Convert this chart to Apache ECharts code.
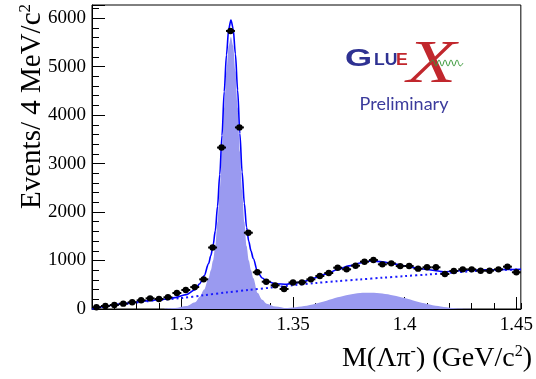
<!DOCTYPE html>
<html>
<head>
<meta charset="utf-8">
<script src="https://cdn.jsdelivr.net/npm/echarts@6/dist/echarts.min.js"></script>
<style>
  html, body { margin: 0; padding: 0; background: #fff; }
  #chart { width: 536px; height: 379px; }
</style>
</head>
<body>
<div id="chart"></div>
<script>
// measured histogram, 4 MeV bins (bin centres)
const binCenters = [1.262, 1.266, 1.270, 1.274, 1.278, 1.282, 1.286, 1.290, 1.294, 1.298,
  1.302, 1.306, 1.310, 1.314, 1.318, 1.322, 1.326, 1.330, 1.334, 1.338,
  1.342, 1.346, 1.350, 1.354, 1.358, 1.362, 1.366, 1.370, 1.374, 1.378,
  1.382, 1.386, 1.390, 1.394, 1.398, 1.402, 1.406, 1.410, 1.414, 1.418,
  1.422, 1.426, 1.430, 1.434, 1.438, 1.442, 1.446, 1.450];
const events = [35, 62, 82, 110, 138, 179, 220, 206, 241, 330,
  392, 452, 612, 1268, 3330, 5735, 3745, 1573, 757, 563,
  488, 412, 547, 550, 612, 680, 742, 852, 818, 893,
  976, 1010, 921, 942, 885, 887, 832, 860, 860, 722,
  783, 818, 818, 790, 790, 818, 873, 757];

// total fit (solid blue)
const fitX = [1.260, 1.265, 1.270, 1.275, 1.280, 1.285, 1.2922, 1.2972, 1.3022, 1.3062,
  1.3082, 1.3102, 1.3122, 1.3132, 1.3142, 1.3152, 1.3162, 1.3172, 1.3182, 1.3192,
  1.3202, 1.3212, 1.3222, 1.3232, 1.3242, 1.3252, 1.3262, 1.3272, 1.3282, 1.3292,
  1.3302, 1.3312, 1.3322, 1.3342, 1.3362, 1.3382, 1.3422, 1.3472, 1.3522, 1.355,
  1.360, 1.365, 1.370, 1.375, 1.380, 1.385, 1.390, 1.395, 1.400, 1.405,
  1.410, 1.415, 1.418, 1.422, 1.427, 1.433, 1.440, 1.446, 1.452];
const fitY = [15, 50, 85, 115, 145, 172, 200, 235, 297, 400,
  522, 683, 935, 1100, 1306, 1612, 2117, 2773, 3578, 4484,
  5239, 5775, 5961, 5786, 5261, 4516, 3621, 2826, 2181, 1686,
  1391, 1196, 1041, 760, 640, 575, 520, 512, 545, 572,
  645, 725, 815, 890, 950, 990, 975, 930, 890, 848,
  815, 785, 765, 780, 798, 805, 810, 815, 820];

// background (dotted)
const bgX = [1.260, 1.265, 1.270, 1.275, 1.280, 1.285, 1.290, 1.300, 1.310, 1.320,
  1.330, 1.340, 1.350, 1.360, 1.370, 1.380, 1.390, 1.400, 1.410, 1.420,
  1.430, 1.440, 1.452];
const bgY = [5, 45, 80, 108, 135, 160, 185, 225, 283, 340,
  391, 441, 490, 535, 575, 610, 645, 678, 710, 745,
  778, 800, 815];

// Xi(1321) signal component (filled)
const sigX = [1.2922, 1.2972, 1.3022, 1.3062, 1.3082, 1.3102, 1.3122, 1.3132, 1.3142, 1.3152,
  1.3162, 1.3172, 1.3182, 1.3192, 1.3202, 1.3212, 1.3222, 1.3232, 1.3242, 1.3252,
  1.3262, 1.3272, 1.3282, 1.3292, 1.3302, 1.3312, 1.3322, 1.3342, 1.3362, 1.3382,
  1.3422, 1.3472, 1.3522];
const sigY = [5, 20, 60, 140, 250, 400, 640, 800, 1000, 1300,
  1800, 2450, 3250, 4150, 4900, 5430, 5610, 5430, 4900, 4150,
  3250, 2450, 1800, 1300, 1000, 800, 640, 330, 190, 110,
  50, 15, 0];

// second bump component (filled)
const bumpX = [1.340, 1.345, 1.350, 1.355, 1.360, 1.365, 1.370, 1.375, 1.380, 1.385,
  1.390, 1.395, 1.400, 1.405, 1.410, 1.415, 1.420, 1.425, 1.430];
const bumpY = [0, 10, 30, 60, 110, 170, 240, 295, 330, 336,
  320, 280, 225, 160, 105, 60, 25, 8, 0];

const xMajorTicks = [1.3, 1.35, 1.4, 1.45];
const yTickStep = 1000;

const pairs = (xs, ys) => xs.map((x, i) => [x, ys[i]]);
const serif = 'Liberation Serif';
const fillColor = '#9a9af0';
const halfBin = 0.002;
const tickText = { t: { fontFamily: serif, fontSize: 19, color: '#000' } };

let chart = echarts.init(document.getElementById('chart'));

const option = {
  animation: false,
  backgroundColor: '#fff',
  grid: {
    left: 92, right: 11, top: 5, bottom: 70,
    show: true, borderColor: '#000', borderWidth: 1
  },
  xAxis: [
    {
      // minor ticks every 0.01
      type: 'value', min: 1.26, max: 1.452, interval: 0.01,
      position: 'bottom',
      axisLine: { lineStyle: { color: '#000', width: 1 } },
      axisTick: { inside: true, length: 6, lineStyle: { color: '#000' } },
      axisLabel: { show: false },
      splitLine: { show: false }
    },
    {
      // major ticks + labels
      type: 'value', min: 1.26, max: 1.452,
      position: 'bottom',
      axisLine: { show: false },
      axisTick: { inside: true, length: 12, customValues: xMajorTicks, lineStyle: { color: '#000' } },
      axisLabel: {
        customValues: xMajorTicks, margin: 7,
        formatter: v => '{t|' + v + '}', rich: tickText
      },
      splitLine: { show: false }
    }
  ],
  yAxis: {
    type: 'value', min: 0, max: 6270, interval: yTickStep,
    axisLine: { show: true, lineStyle: { color: '#000', width: 1 } },
    axisTick: { inside: true, length: 13, lineStyle: { color: '#000' } },
    minorTick: { show: true, splitNumber: 5, length: 7, lineStyle: { color: '#000' } },
    axisLabel: {
      margin: 6, showMaxLabel: false,
      formatter: v => '{t|' + v + '}', rich: tickText
    },
    splitLine: { show: false }
  },
  series: [
    {
      name: 'signal', type: 'line', xAxisIndex: 0, data: pairs(sigX, sigY),
      symbol: 'none', smooth: 0.3, smoothMonotone: 'x',
      lineStyle: { width: 0 }, areaStyle: { color: fillColor, opacity: 1 }, z: 1
    },
    {
      name: 'bump', type: 'line', xAxisIndex: 0, data: pairs(bumpX, bumpY),
      symbol: 'none', smooth: 0.3,
      lineStyle: { width: 0 }, areaStyle: { color: fillColor, opacity: 1 }, z: 1
    },
    {
      name: 'background', type: 'line', xAxisIndex: 0, data: pairs(bgX, bgY),
      symbol: 'none', smooth: 0.3,
      lineStyle: { color: '#1a1aff', width: 2, type: [2, 3] }, z: 2
    },
    {
      name: 'fit', type: 'line', xAxisIndex: 0, data: pairs(fitX, fitY),
      symbol: 'none', smooth: 0.3, smoothMonotone: 'x',
      lineStyle: { color: '#0000ff', width: 1.6 }, z: 3
    },
    {
      name: 'data', type: 'custom', xAxisIndex: 0, data: pairs(binCenters, events), z: 4,
      renderItem: function (params, api) {
        const x = api.value(0), y = api.value(1);
        const c = api.coord([x, y]);
        const l = api.coord([x - halfBin, y]);
        const r = api.coord([x + halfBin, y]);
        return {
          type: 'group',
          children: [
            { type: 'line', shape: { x1: l[0], y1: l[1], x2: r[0], y2: r[1] }, style: { stroke: '#000', lineWidth: 2 } },
            { type: 'circle', shape: { cx: c[0], cy: c[1], r: 3.2 }, style: { fill: '#000' } }
          ]
        };
      }
    }
  ],
  graphic: [
    {
      type: 'text', x: 532, y: 359,
      style: {
        text: '{a|M(Λπ}{s|-}{a|) (GeV/c}{s|2}{a|)}',
        align: 'right', verticalAlign: 'middle',
        rich: {
          a: { fontFamily: serif, fontSize: 28, lineHeight: 30, fill: '#000' },
          s: { fontFamily: serif, fontSize: 16, lineHeight: 16, verticalAlign: 'top', fill: '#000' }
        }
      }
    },
    {
      type: 'text', x: 32, y: 4, rotation: Math.PI / 2,
      style: {
        text: '{a|Events/ 4 MeV/c}{s|2}',
        align: 'right', verticalAlign: 'middle',
        rich: {
          a: { fontFamily: serif, fontSize: 29, lineHeight: 30, fill: '#000' },
          s: { fontFamily: serif, fontSize: 17, lineHeight: 17, verticalAlign: 'top', fill: '#000' }
        }
      }
    },
    // GlueX logo
    {
      type: 'text', x: 345, y: 59, scaleX: 1.45,
      style: { text: 'G', font: "bold 24px 'Liberation Sans', sans-serif", fill: '#2e3192', verticalAlign: 'middle' }
    },
    {
      type: 'text', x: 374, y: 61, scaleX: 1.1,
      style: { text: 'LU', font: "bold 16px 'Liberation Sans', sans-serif", fill: '#2e3192', verticalAlign: 'middle' }
    },
    {
      type: 'text', x: 396, y: 61, scaleX: 1.1,
      style: { text: 'E', font: "bold 16px 'Liberation Sans', sans-serif", fill: '#c1272d', verticalAlign: 'middle' }
    },
    {
      type: 'polyline', z: 5,
      shape: { points: [[430, 63], [433, 60], [436, 66], [439, 60], [442, 66], [445, 60], [448, 66], [451, 60], [454, 66], [457, 60], [460, 66], [463, 63]], smooth: 0.4 },
      style: { stroke: '#3c9a3c', lineWidth: 1, fill: null }
    },
    {
      type: 'text', x: 407, y: 66, scaleX: 1.3,
      style: { text: 'X', font: "italic 62px 'Liberation Serif', serif", fill: '#c1272d', verticalAlign: 'middle' }
    },
    {
      type: 'text', x: 404, y: 104,
      style: { text: 'Preliminary', font: "18px Lato, 'Noto Sans', sans-serif", fill: '#3b3b9c', align: 'center', verticalAlign: 'middle' }
    }
  ]
};

chart.setOption(option);

window.addEventListener('resize', function () {
  chart.resize();
});
</script>
</body>
</html>
